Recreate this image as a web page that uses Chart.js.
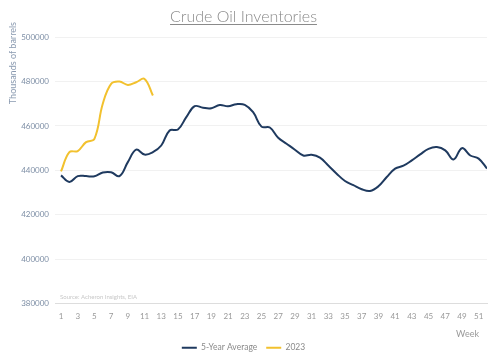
<!DOCTYPE html>
<html>
<head>
<meta charset="utf-8">
<script src="https://cdn.jsdelivr.net/npm/chart.js@4.4.0/dist/chart.umd.min.js"></script>
<style>
html,body{margin:0;padding:0;background:#fff;}
#wrap{width:500px;height:362px;}
</style>
</head>
<body>
<div id="wrap"><canvas id="c" width="500" height="362"></canvas></div>
<script>
const weeks = [1,2,3,4,5,6,7,8,9,10,11,12,13,14,15,16,17,18,19,20,21,22,23,24,25,26,27,28,29,30,31,32,33,34,35,36,37,38,39,40,41,42,43,44,45,46,47,48,49,50,51,52];
const avg5 = [437750,434800,437400,437400,437300,439000,439100,437400,443700,449300,447100,448200,451200,458000,458400,464000,468900,468200,468000,469400,468900,469800,469500,466200,459700,459300,454700,452000,449300,446700,447000,445700,442200,438500,435200,433300,431500,430700,432800,437000,440800,442100,444500,447200,449700,450500,449000,444900,450000,446700,445300,440800];
const y2023 = [439500,448200,448700,452700,454200,470000,479000,480000,478500,479700,481200,473700];
const yTicks = [380000,400000,420000,440000,460000,480000,500000];
const xTicks = [1,3,5,7,9,11,13,15,17,19,21,23,25,27,29,31,33,35,37,39,41,43,45,47,49,51];
const seriesNames = ['5-Year Average','2023'];
const titleText = 'Crude Oil Inventories';
const yTitle = 'Thousands of barrels';
const xTitle = 'Week';
const sourceText = 'Source: Acheron Insights, EIA';

const FONT = 'Lato, "Open Sans", sans-serif';
const TITLE_SIZE = 16;
const TITLE_PAD_TOP = 7;

const extras = {
  id:'extras',
  afterDraw(chart){
    const ctx = chart.ctx;
    const ca = chart.chartArea;
    ctx.save();
    // title underline
    const tb = chart.titleBlock;
    ctx.font = '300 ' + TITLE_SIZE + 'px ' + FONT;
    const w = ctx.measureText(titleText).width;
    const cx = tb.left + tb.width/2;
    const center = tb.top + TITLE_PAD_TOP + TITLE_SIZE*1.2/2;
    const yUnder = Math.round(center + TITLE_SIZE*0.45);
    ctx.strokeStyle = '#8a8a8a';
    ctx.lineWidth = 1;
    ctx.beginPath();
    ctx.moveTo(cx - w/2, yUnder + 0.5);
    ctx.lineTo(cx + w/2, yUnder + 0.5);
    ctx.stroke();
    ctx.restore();
    // y title
    ctx.save();
    ctx.font = '9px ' + FONT;
    ctx.fillStyle = '#8a9ab0';
    ctx.translate(13, 22);
    ctx.rotate(-Math.PI/2);
    ctx.textAlign = 'right';
    ctx.textBaseline = 'middle';
    ctx.fillText(yTitle, 0, 0);
    ctx.restore();
    // x title
    ctx.save();
    ctx.font = '9px ' + FONT;
    ctx.fillStyle = '#999';
    ctx.textAlign = 'right';
    ctx.textBaseline = 'middle';
    ctx.fillText(xTitle, ca.right - 8, ca.bottom + 31);
    ctx.restore();
    // source
    ctx.save();
    ctx.font = '6px ' + FONT;
    ctx.fillStyle = '#c8c8c8';
    ctx.textAlign = 'left';
    ctx.textBaseline = 'middle';
    ctx.fillText(sourceText, ca.left + 5, ca.bottom - 6);
    ctx.restore();
  }
};

new Chart(document.getElementById('c'), {
  type:'line',
  data:{
    datasets:[
      {label:seriesNames[0], data:weeks.map((w,i)=>({x:w,y:avg5[i]})), borderColor:'#1f3a5f', backgroundColor:'#1f3a5f', borderWidth:2, pointRadius:0, tension:0.4},
      {label:seriesNames[1], data:y2023.map((v,i)=>({x:weeks[i],y:v})), borderColor:'#f2c12e', backgroundColor:'#f2c12e', borderWidth:2, pointRadius:0, tension:0.4}
    ]
  },
  options:{
    responsive:false,
    animation:false,
    layout:{padding:{left:0,right:13,top:0,bottom:0}},
    plugins:{
      title:{display:true, text:titleText, color:'#8a8a8a', font:{family:FONT, size:TITLE_SIZE, weight:'300'}, padding:{top:TITLE_PAD_TOP,bottom:11}},
      legend:{position:'bottom', labels:{usePointStyle:true, pointStyle:'line', pointStyleWidth:15, boxHeight:8, color:'#8a8a8a', font:{family:FONT,size:8.5}, padding:9}},
      tooltip:{enabled:false}
    },
    scales:{
      x:{type:'linear', min:0.28, max:52,
        afterBuildTicks(s){ s.ticks = xTicks.map(v=>({value:v})); },
        afterFit(s){ s.height = 31; },
        ticks:{autoSkip:false, maxRotation:0, color:'#999', font:{family:FONT,size:8}, padding:8},
        grid:{display:false, drawTicks:false},
        border:{display:true, color:'#dddddd'}
      },
      y:{min:380000, max:500000,
        afterBuildTicks(s){ s.ticks = yTicks.map(v=>({value:v})); },
        afterFit(s){ s.width = 55; },
        ticks:{color:'#7d8ea5', font:{family:FONT,size:8}, padding:6, callback:(v)=>String(v)},
        grid:{color:'#f1f1f1', drawTicks:false},
        border:{display:false}
      }
    }
  },
  plugins:[extras]
});
</script>
</body>
</html>
